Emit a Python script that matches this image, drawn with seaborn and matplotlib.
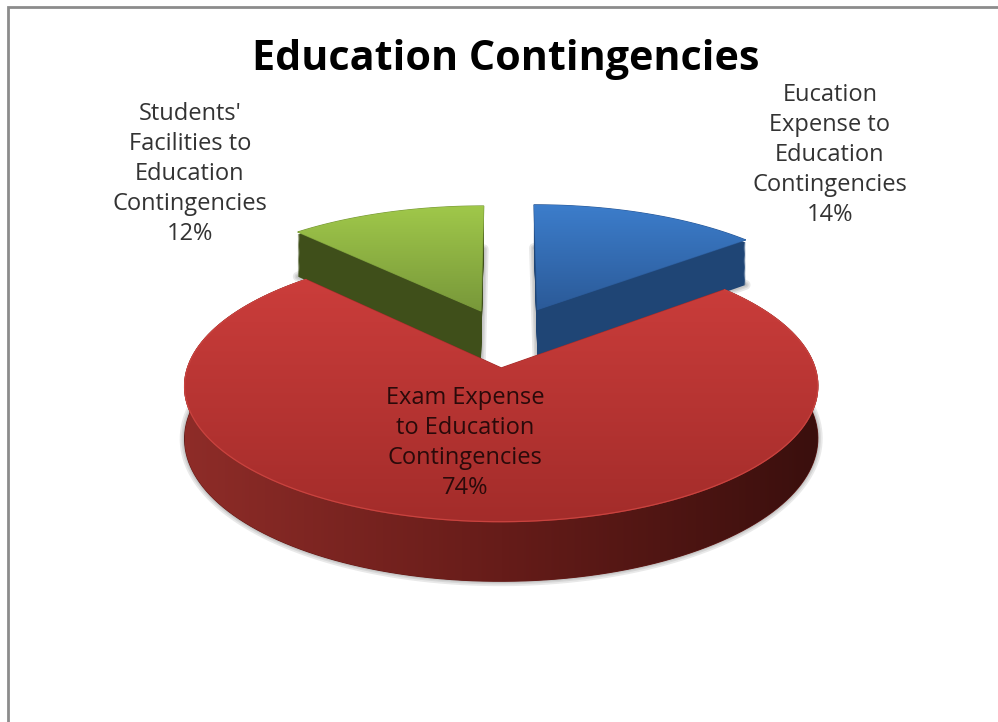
import numpy as np
import matplotlib
matplotlib.use('Agg')
import matplotlib.pyplot as plt
import seaborn as sns
from matplotlib.colors import LinearSegmentedColormap
from matplotlib.patches import Polygon

# chart data
categories = ['Eucation\nExpense to\nEducation\nContingencies',
              'Exam Expense\nto Education\nContingencies',
              "Students'\nFacilities to\nEducation\nContingencies"]
shares = [14, 74, 12]
title = 'Education Contingencies'

# look of each slice
explode = [0.25, 0.24, 0.23]
top_colors = [['#3c7dcb', '#2b5a98'], ['#cb3d3b', '#a32c2a'], ['#a0c84a', '#78983a']]
side_colors = [['#1f4575'], ['#8e2c28', '#661c19', '#3a0f0d'], ['#3f4f1a']]
label_x = [830, 465, 190]
label_y = [155, 443, 174]
label_colors = ['#333333', '#2a0a0a', '#333333']

sns.set_theme(style='white')
plt.rcParams['font.family'] = ['Open Sans', 'DejaVu Sans']

fig = plt.figure(figsize=(9.98, 7.22), dpi=100, facecolor='white')
ax = fig.add_axes([0, 0, 1, 1])

wedges, _ = ax.pie(shares, explode=explode, startangle=90, counterclock=False)


# tilt the flat pie, things further back get a bit smaller
def project(u, v, z=0.0):
    w = 1 + 0.13 * v
    return 506 + 304 * u / w, 337 - 125 * v / w + 50 * z / w


def wedge_points(wedge, z=0.0):
    t = np.radians(np.linspace(wedge.theta1, wedge.theta2, 160))
    u = np.r_[wedge.center[0], wedge.center[0] + np.cos(t)]
    v = np.r_[wedge.center[1], wedge.center[1] + np.sin(t)]
    return np.column_stack(project(u, v, z))


def gradient_fill(points, colors, horizontal, zorder):
    # flat colour underneath so the clipped image has no pale seam at its edge
    mid = colors[len(colors) // 2]
    ax.add_patch(Polygon(points, closed=True, facecolor=mid, edgecolor=mid, lw=0.8, zorder=zorder))
    cmap = LinearSegmentedColormap.from_list('fill', colors)
    grad = np.linspace(0, 1, 256)
    grad = grad.reshape(1, -1) if horizontal else grad.reshape(-1, 1)
    x0, y0 = points.min(axis=0)
    x1, y1 = points.max(axis=0)
    im = ax.imshow(grad, cmap=cmap, extent=(x0, x1, y1, y0), aspect='auto', zorder=zorder)
    clip = Polygon(points, closed=True, transform=ax.transData, fill=False, edgecolor='none')
    ax.add_patch(clip)
    im.set_clip_path(clip)


# back slices first, the big red one sits in front of them
for order, i in enumerate([2, 0, 1]):
    wedge = wedges[i]
    wedge.set_visible(False)
    z_base = order * 10 + 2

    # soft shadow on the floor
    floor = wedge_points(wedge, 1)
    for lw in [7, 4.5, 2.5]:
        ax.add_patch(Polygon(floor, closed=True, fill=False, edgecolor='#777777', alpha=0.16,
                             lw=lw, joinstyle='round', zorder=z_base - 1))

    if i == 1:
        # outer wall of the red slice, top arc and bottom arc joined up
        wall = np.vstack([wedge_points(wedge, 0)[1:], floor[1:][::-1]])
        gradient_fill(wall, side_colors[i], True, z_base)
    else:
        # stop a little under the top so the dark wall does not peek round the face
        for z in np.linspace(1, 0.06, 40):
            ax.add_patch(Polygon(wedge_points(wedge, z), closed=True, facecolor=side_colors[i][0],
                                 edgecolor='none', zorder=z_base))

    face = wedge_points(wedge, 0)
    gradient_fill(face, top_colors[i], False, z_base + 1)
    if i == 1:
        ax.plot(face[1:, 0], face[1:, 1], color='#c9433f', lw=0.9, zorder=z_base + 2)

ax.set_xlim(0, 998)
ax.set_ylim(722, 0)
ax.axis('off')

# picture border, left and top only
ax.plot([998, 8, 8], [7, 7, 722], color='#8c8c8c', lw=2, zorder=1, solid_joinstyle='miter')

ax.text(506, 59, title, fontsize=29.7, fontweight='bold', color='black',
        ha='center', va='center', zorder=30)
for i in range(3):
    txt = categories[i] + '\n' + str(shares[i]) + '%'
    ax.text(label_x[i], label_y[i], txt, fontsize=17, color=label_colors[i], ha='center',
            va='center', linespacing=1.34, zorder=30)

fig.savefig('out.png', dpi=100)
